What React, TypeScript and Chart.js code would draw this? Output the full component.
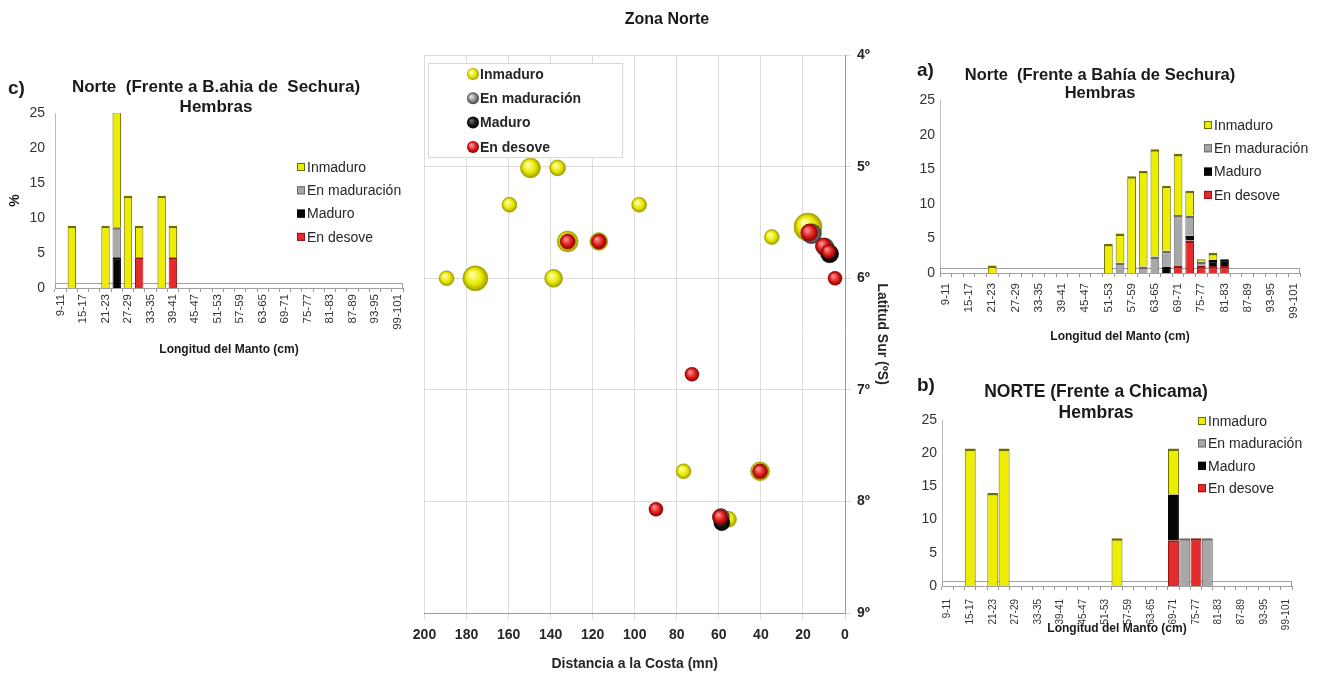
import React, { useEffect, useRef } from "react";
import { Chart, registerables } from "chart.js";

Chart.register(...registerables);

const FONT = "'Liberation Sans', Arial, sans-serif";

// ---------- categories ----------
const sizeClasses = [
  "9-11", "12-14", "15-17", "18-20", "21-23", "24-26", "27-29", "30-32", "33-35", "36-38",
  "39-41", "42-44", "45-47", "48-50", "51-53", "54-56", "57-59", "60-62", "63-65", "66-68",
  "69-71", "72-74", "75-77", "78-80", "81-83", "84-86", "87-89", "90-92", "93-95", "96-98", "99-101",
];
const yTicksBar = [0, 5, 10, 15, 20, 25];
const latTicks = [4, 5, 6, 7, 8, 9];
const distTicks = [0, 20, 40, 60, 80, 100, 120, 140, 160, 180, 200];

const stageLabels = ["Inmaduro", "En maduración", "Maduro", "En desove"];
const stageFill = ["#eded00", "#a8a8a8", "#050505", "#e42a2a"];
const stageEdge = ["#6e6e00", "#6a6a6a", "#000000", "#9a1212"];

// ---------- panel c) Norte (Frente a B.ahia de Sechura) ----------
const cInmaduro: [string, number][] = [["12-14", 8.9], ["21-23", 8.9], ["24-26", 16.6], ["27-29", 13.2], ["30-32", 4.5], ["36-38", 13.2], ["39-41", 4.5]];
const cEnMaduracion: [string, number][] = [["24-26", 4.3]];
const cMaduro: [string, number][] = [["24-26", 4.4]];
const cDesove: [string, number][] = [["30-32", 4.4], ["39-41", 4.4]];

// ---------- panel a) Norte (Frente a Bahía de Sechura) ----------
const aInmaduro: [string, number][] = [["21-23", 1.1], ["51-53", 4.2], ["54-56", 4.2], ["57-59", 14.0], ["60-62", 13.8], ["63-65", 15.5], ["66-68", 9.4], ["69-71", 8.8], ["72-74", 3.6], ["75-77", 0.4], ["78-80", 1.0]];
const aEnMaduracion: [string, number][] = [["54-56", 1.5], ["60-62", 0.95], ["63-65", 2.4], ["66-68", 2.25], ["69-71", 7.4], ["72-74", 2.9], ["75-77", 0.6]];
const aMaduro: [string, number][] = [["66-68", 0.95], ["72-74", 0.7], ["78-80", 0.9], ["81-83", 1.0]];
const aDesove: [string, number][] = [["69-71", 1.0], ["72-74", 4.7], ["75-77", 1.0], ["78-80", 1.0], ["81-83", 1.0]];

// ---------- panel b) NORTE (Frente a Chicama) ----------
const bInmaduro: [string, number][] = [["15-17", 20.7], ["21-23", 14.0], ["24-26", 20.7], ["54-56", 7.2], ["69-71", 6.9]];
const bEnMaduracion: [string, number][] = [["72-74", 7.2], ["78-80", 7.2]];
const bMaduro: [string, number][] = [["69-71", 6.9]];
const bDesove: [string, number][] = [["69-71", 6.9], ["75-77", 7.2]];

// ---------- map (Zona Norte): distance to coast (mn), latitude (ºS), bubble size ----------
const mapInmaduro = [
  { x: 149.6, y: 5.01, r: 10 }, { x: 136.7, y: 5.01, r: 8 }, { x: 159.6, y: 5.34, r: 7.5 }, { x: 97.9, y: 5.34, r: 7.5 },
  { x: 189.5, y: 6.0, r: 7.5 }, { x: 175.8, y: 6.0, r: 12.5 }, { x: 138.6, y: 6.0, r: 9 }, { x: 34.8, y: 5.63, r: 7.5 },
  { x: 17.6, y: 5.54, r: 14 }, { x: 131.9, y: 5.67, r: 10.5 }, { x: 117.1, y: 5.67, r: 9 }, { x: 76.8, y: 7.73, r: 7.5 },
  { x: 40.4, y: 7.73, r: 9.5 }, { x: 55.4, y: 8.16, r: 8 },
];
const mapEnMaduracion = [{ x: 16.0, y: 5.6, r: 10 }, { x: 9.5, y: 5.72, r: 9 }, { x: 59.0, y: 8.14, r: 8.5 }];
const mapMaduro = [{ x: 7.3, y: 5.78, r: 9 }, { x: 58.6, y: 8.19, r: 8 }];
const mapDesove = [
  { x: 131.9, y: 5.67, r: 7.5 }, { x: 117.1, y: 5.67, r: 7.5 }, { x: 17.0, y: 5.59, r: 8.5 }, { x: 10.3, y: 5.71, r: 8 },
  { x: 7.8, y: 5.76, r: 7 }, { x: 4.75, y: 6.0, r: 7 }, { x: 72.8, y: 6.86, r: 7 }, { x: 40.4, y: 7.73, r: 7.5 },
  { x: 89.9, y: 8.07, r: 7 }, { x: 59.4, y: 8.14, r: 7.5 },
];

function toSeries(pairs: [string, number][]) {
  return sizeClasses.map((c) => {
    const f = pairs.find((p) => p[0] === c);
    return f ? f[1] : null;
  });
}

// ---------- plugins ----------
const boxLegend = {
  id: "boxLegend",
  afterDraw(chart: any, _args: any, opts: any) {
    if (!opts || !opts.items) return;
    const ctx = chart.ctx;
    ctx.save();
    ctx.font = opts.font;
    ctx.textBaseline = "middle";
    ctx.textAlign = "left";
    opts.items.forEach((it: any, i: number) => {
      const y = opts.y + i * opts.dy;
      ctx.fillStyle = it.fill;
      ctx.fillRect(opts.x, y - 4, 8, 8);
      ctx.strokeStyle = it.edge;
      ctx.lineWidth = 1;
      ctx.strokeRect(opts.x + 0.5, y - 3.5, 7, 7);
      ctx.fillStyle = "#262626";
      ctx.fillText(it.text, opts.x + 10, y + 1);
    });
    ctx.restore();
  },
};

const floorPlugin = {
  id: "floor",
  beforeDatasetsDraw(chart: any, _args: any, opts: any) {
    const ys = chart.scales.y;
    const { left, right } = chart.chartArea;
    const ctx = chart.ctx;
    const y0 = ys.getPixelForValue(0);
    const y1 = ys.getPixelForValue(opts.depth || 0.7);
    ctx.save();
    ctx.strokeStyle = "#a0a0a0";
    ctx.lineWidth = 1;
    ctx.strokeRect(left + 0.5, Math.round(y1) + 0.5, right - left - 1, Math.round(y0 - y1));
    ctx.restore();
  },
};

const circleLegend = {
  id: "circleLegend",
  afterDraw(chart: any, _args: any, opts: any) {
    if (!opts || !opts.items) return;
    const ctx = chart.ctx;
    ctx.save();
    ctx.fillStyle = "#ffffff";
    ctx.strokeStyle = "#d9d9d9";
    ctx.lineWidth = 1;
    ctx.fillRect(opts.box[0], opts.box[1], opts.box[2], opts.box[3]);
    ctx.strokeRect(opts.box[0] + 0.5, opts.box[1] + 0.5, opts.box[2], opts.box[3]);
    ctx.font = opts.font;
    ctx.textBaseline = "middle";
    opts.items.forEach((it: any, i: number) => {
      const y = opts.y + i * opts.dy;
      const g = ctx.createRadialGradient(opts.x - 2, y - 2, 0.5, opts.x, y, 6);
      g.addColorStop(0, it.grad[0]);
      g.addColorStop(0.6, it.grad[1]);
      g.addColorStop(1, it.grad[2]);
      ctx.fillStyle = g;
      ctx.beginPath();
      ctx.arc(opts.x, y, 6, 0, Math.PI * 2);
      ctx.fill();
      ctx.fillStyle = "#262626";
      ctx.fillText(it.text, opts.x + 7, y + 1);
    });
    ctx.restore();
  },
};

// ---------- bar panel factory ----------
type BarPanel = {
  title: string[];
  series: [string, number][][]; // Inmaduro, En maduración, Maduro, En desove
  w: number;
  h: number;
  padLeft: number;
  area: { l: number; r: number; b: number };
  titleSize: number;
  titlePad: { top: number; bottom: number };
  titleLH: number;
  xTitlePadBottom: number;
  xTickPad: number;
  xTickSize: number;
  yTickPad: number;
  legend: { x: number; y: number; dy: number };
  barPct: number;
  yTitle?: string;
  yTitlePad?: number;
};

function makeBarConfig(p: BarPanel): any {
  const stackOrder = [3, 2, 1, 0];
  return {
    type: "bar",
    data: {
      labels: sizeClasses,
      datasets: stackOrder.map((i) => ({
        label: stageLabels[i],
        data: toSeries(p.series[i]),
        backgroundColor: stageFill[i],
        borderColor: stageEdge[i],
        borderWidth: { top: 2.5, left: 1, right: 1, bottom: 0 },
        categoryPercentage: 1,
        barPercentage: p.barPct,
        stack: "s",
      })),
    },
    options: {
      responsive: false,
      animation: false,
      devicePixelRatio: 1,
      layout: { padding: { left: p.padLeft, right: p.w - p.area.r, top: 0, bottom: 0 } },
      plugins: {
        legend: { display: false },
        tooltip: { enabled: false },
        title: {
          display: true,
          text: p.title,
          color: "#1a1a1a",
          font: { family: FONT, size: p.titleSize, weight: "bold", lineHeight: p.titleLH },
          padding: p.titlePad,
        },
        boxLegend: {
          x: p.legend.x,
          y: p.legend.y,
          dy: p.legend.dy,
          font: `14px ${FONT}`,
          items: [0, 1, 2, 3].map((i) => ({ text: stageLabels[i], fill: stageFill[i], edge: stageEdge[i] })),
        },
        floor: { depth: 0.7 },
      },
      scales: {
        x: {
          stacked: true,
          grid: { display: true, drawOnChartArea: false, drawTicks: true, tickLength: 4, color: "#9a9a9a", offset: true },
          border: { color: "#8a8a8a" },
          ticks: {
            autoSkip: false,
            minRotation: 90,
            maxRotation: 90,
            padding: p.xTickPad,
            color: "#333",
            font: { family: FONT, size: p.xTickSize },
            callback: (_v: any, i: number) => (i % 2 === 0 ? sizeClasses[i] : ""),
          },
          title: {
            display: true,
            text: "Longitud del Manto (cm)",
            color: "#1a1a1a",
            font: { family: FONT, size: 12, weight: "bold" },
            padding: { top: 0, bottom: p.xTitlePadBottom },
          },
          afterFit: (s: any) => {
            s.height = p.h - p.area.b;
          },
        },
        y: {
          stacked: true,
          min: 0,
          max: 25,
          afterBuildTicks: (s: any) => {
            s.ticks = yTicksBar.map((v) => ({ value: v }));
          },
          grid: { display: false, drawTicks: false },
          border: { color: "#bdbdbd" },
          ticks: { color: "#333", font: { family: FONT, size: 14 }, padding: p.yTickPad },
          title: p.yTitle
            ? { display: true, text: p.yTitle, color: "#1a1a1a", font: { family: FONT, size: 14, weight: "bold" }, padding: { top: p.yTitlePad ?? 8, bottom: 0 } }
            : { display: false },
          afterFit: (s: any) => {
            s.width = p.area.l - p.padLeft;
          },
        },
      },
    },
    plugins: [boxLegend, floorPlugin],
  };
}

// ---------- bubble (map) ----------
const bubbleGrad = [
  ["#ffffb8", "#e9e900", "#9c9c00"],
  ["#e0e0e0", "#8a8a8a", "#3c3c3c"],
  ["#6a6a6a", "#151515", "#000000"],
  ["#ff9a9a", "#e01e1e", "#8a0000"],
];

function sphere(grad: string[]) {
  return (c: any) => {
    if (c.type !== "data" || !c.raw) return grad[1];
    const ch = c.chart;
    const xs = ch.scales && ch.scales.x;
    const ys = ch.scales && ch.scales.y;
    if (!xs || !ys) return grad[1];
    const px = xs.getPixelForValue(c.raw.x);
    const py = ys.getPixelForValue(c.raw.y);
    const r = c.raw.r;
    if (!isFinite(px) || !isFinite(py)) return grad[1];
    const g = ch.ctx.createRadialGradient(px - r * 0.3, py - r * 0.35, r * 0.05, px, py, r);
    g.addColorStop(0, grad[0]);
    g.addColorStop(0.6, grad[1]);
    g.addColorStop(1, grad[2]);
    return g;
  };
}

function makeBubbleConfig(): any {
  const sets = [mapInmaduro, mapEnMaduracion, mapMaduro, mapDesove];
  const W = 500;
  const H = 675;
  return {
    type: "bubble",
    data: {
      datasets: sets.map((d, i) => ({
        label: stageLabels[i],
        data: d,
        backgroundColor: sphere(bubbleGrad[i]),
        borderColor: bubbleGrad[i][2],
        borderWidth: 0.5,
        order: 3 - i,
        clip: false,
      })),
    },
    options: {
      responsive: false,
      animation: false,
      devicePixelRatio: 1,
      layout: { padding: { left: 14, right: 0, top: 0, bottom: 0 } },
      plugins: {
        legend: { display: false },
        tooltip: { enabled: false },
        title: {
          display: true,
          text: "Zona Norte",
          color: "#1a1a1a",
          font: { family: FONT, size: 16, weight: "bold", lineHeight: 1.2 },
          padding: { top: 10, bottom: 26 },
        },
        circleLegend: {
          box: [18, 63, 194, 94],
          x: 63,
          y: 74,
          dy: 24.3,
          font: `bold 14px ${FONT}`,
          items: [0, 1, 2, 3].map((i) => ({ text: stageLabels[i], grad: bubbleGrad[i] })),
        },
      },
      scales: {
        x: {
          type: "linear",
          min: 0,
          max: 200,
          reverse: true,
          afterBuildTicks: (s: any) => {
            s.ticks = distTicks.map((v) => ({ value: v }));
          },
          grid: { color: "#dcdcdc", tickLength: 6 },
          border: { color: "#9a9a9a" },
          ticks: { color: "#262626", font: { family: FONT, size: 14, weight: "bold" }, padding: 8 },
          title: {
            display: true,
            text: "Distancia a la Costa (mn)",
            color: "#262626",
            font: { family: FONT, size: 14, weight: "bold" },
            padding: { top: 0, bottom: 2 },
          },
          afterFit: (s: any) => {
            s.height = H - 613;
          },
        },
        y: {
          type: "linear",
          position: "right",
          min: 4,
          max: 9,
          reverse: true,
          afterBuildTicks: (s: any) => {
            s.ticks = latTicks.map((v) => ({ value: v }));
          },
          grid: { color: "#dcdcdc", tickLength: 6 },
          border: { color: "#9a9a9a" },
          ticks: {
            color: "#262626",
            font: { family: FONT, size: 14, weight: "bold" },
            padding: 6,
            callback: (v: any) => `${v}º`,
          },
          title: {
            display: true,
            text: "Latitud Sur (ºS)",
            color: "#262626",
            font: { family: FONT, size: 14, weight: "bold" },
            padding: { top: 20, bottom: 0 },
          },
          afterFit: (s: any) => {
            s.width = W - 435;
          },
        },
      },
    },
    plugins: [circleLegend],
  };
}

function ChartBox({ make, left, top, w, h }: { make: () => any; left: number; top: number; w: number; h: number }) {
  const ref = useRef<HTMLCanvasElement>(null);
  useEffect(() => {
    const chart = new Chart(ref.current as HTMLCanvasElement, make());
    return () => chart.destroy();
  }, []);
  return <canvas ref={ref} width={w} height={h} style={{ position: "absolute", left, top, width: w, height: h }} />;
}

const panelLabel: React.CSSProperties = {
  position: "absolute",
  fontFamily: FONT,
  fontWeight: "bold",
  fontSize: 19,
  color: "#1a1a1a",
  lineHeight: "20px",
};

export default function App() {
  return (
    <div style={{ position: "absolute", left: 0, top: 0, width: 1320, height: 675, background: "#fff", overflow: "hidden" }}>
      <ChartBox
        left={0}
        top={60}
        w={420}
        h={310}
        make={() =>
          makeBarConfig({
            title: ["Norte  (Frente a B.ahia de  Sechura)", "Hembras"],
            series: [cInmaduro, cEnMaduracion, cMaduro, cDesove],
            w: 420,
            h: 310,
            padLeft: 29,
            area: { l: 55, r: 403, b: 228 },
            titleSize: 17,
            titleLH: 1.18,
            titlePad: { top: 17, bottom: -4 },
            xTitlePadBottom: 13,
            xTickPad: 2,
            xTickSize: 11.5,
            yTickPad: 10,
            legend: { x: 297, y: 107, dy: 23.3 },
            barPct: 0.75,
            yTitle: "%",
            yTitlePad: -22,
          })
        }
      />
      <ChartBox left={410} top={0} w={500} h={675} make={makeBubbleConfig} />
      <ChartBox
        left={900}
        top={50}
        w={420}
        h={300}
        make={() =>
          makeBarConfig({
            title: ["Norte  (Frente a Bahía de Sechura)", "Hembras"],
            series: [aInmaduro, aEnMaduracion, aMaduro, aDesove],
            w: 420,
            h: 300,
            padLeft: 0,
            area: { l: 40, r: 400, b: 223 },
            titleSize: 16.5,
            titleLH: 1.11,
            titlePad: { top: 16, bottom: -2.5 },
            xTitlePadBottom: 6,
            xTickPad: 6,
            xTickSize: 11.5,
            yTickPad: 5,
            legend: { x: 304, y: 75, dy: 23.3 },
            barPct: 0.75,
          })
        }
      />
      <ChartBox
        left={900}
        top={360}
        w={420}
        h={290}
        make={() =>
          makeBarConfig({
            title: ["NORTE (Frente a Chicama)", "Hembras"],
            series: [bInmaduro, bEnMaduracion, bMaduro, bDesove],
            w: 420,
            h: 290,
            padLeft: 0,
            area: { l: 42, r: 392, b: 226 },
            titleSize: 17.5,
            titleLH: 1.23,
            titlePad: { top: 21, bottom: -4 },
            xTitlePadBottom: 14,
            xTickPad: 9,
            xTickSize: 10,
            yTickPad: 5,
            legend: { x: 298, y: 61, dy: 22.4 },
            barPct: 0.97,
          })
        }
      />
      <div style={{ ...panelLabel, left: 8, top: 78 }}>c)</div>
      <div style={{ ...panelLabel, left: 917, top: 60 }}>a)</div>
      <div style={{ ...panelLabel, left: 917, top: 375 }}>b)</div>
    </div>
  );
}
